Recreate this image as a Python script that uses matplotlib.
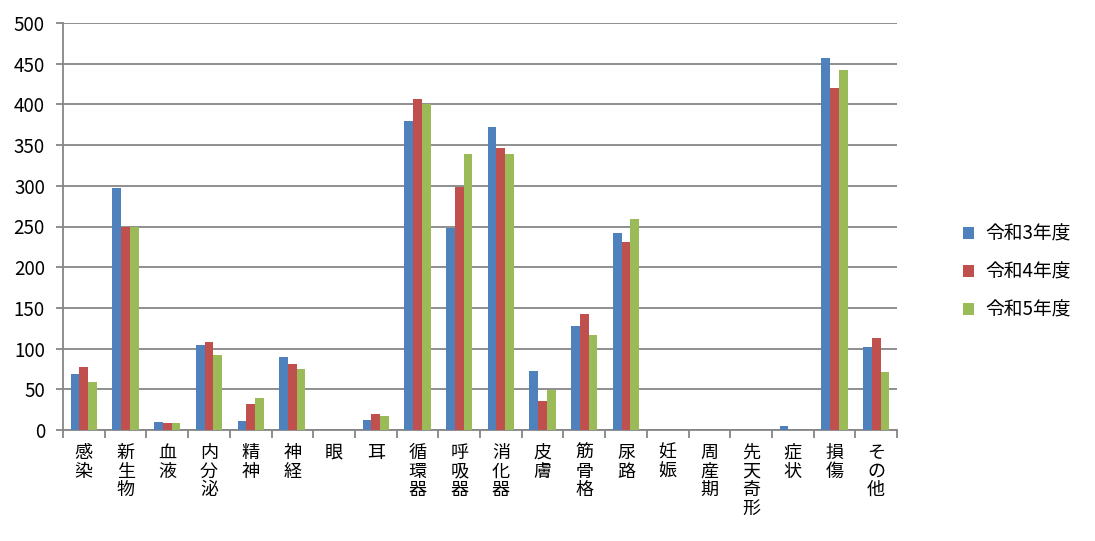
import numpy as np
import matplotlib

matplotlib.use("Agg")
import matplotlib.pyplot as plt

plt.rcParams["font.family"] = ["Noto Sans CJK JP", "DejaVu Sans"]

categories = ["感染", "新生物", "血液", "内分泌", "精神", "神経", "眼", "耳", "循環器",
              "呼吸器", "消化器", "皮膚", "筋骨格", "尿路", "妊娠", "周産期", "先天奇形",
              "症状", "損傷", "その他"]
series_names = ["令和3年度", "令和4年度", "令和5年度"]
r3 = [69, 297, 10, 104, 11, 90, 0, 12, 380, 248, 372, 72, 128, 242, 0, 0, 0, 5, 457, 102]
r4 = [78, 250, 9, 108, 32, 81, 0, 20, 407, 299, 346, 36, 142, 231, 0, 0, 0, 0, 420, 113]
r5 = [59, 249, 9, 92, 39, 75, 0, 17, 401, 339, 339, 49, 117, 259, 0, 0, 0, 0, 442, 71]
colors = ["#4F81BD", "#C0504D", "#9BBB59"]

fig = plt.figure(figsize=(10.95, 5.41), dpi=100)
ax = fig.add_axes([63 / 1095, 1 - 430 / 541, (897 - 63) / 1095, (430 - 23) / 541])

x = np.arange(len(categories))
w = 0.21
for i, (vals, name, c) in enumerate(zip([r3, r4, r5], series_names, colors)):
    ax.bar(x + (i - 1) * w, vals, width=w, color=c, label=name, zorder=3)

grid_c = "#868686"
ax.set_xlim(-0.5, len(categories) - 0.5)
ax.set_ylim(0, 500)
ax.set_yticks(np.arange(0, 501, 50))
ax.yaxis.grid(True, color=grid_c, lw=1.3, zorder=0)
for s in ["top", "right"]:
    ax.spines[s].set_visible(False)
for s in ["left", "bottom"]:
    ax.spines[s].set_color(grid_c)
    ax.spines[s].set_linewidth(1.3)

ax.set_xticks(x)
ax.set_xticklabels(["\n".join(c) for c in categories], fontsize=13,
                   linespacing=1.05, va="top")
ax.tick_params(axis="x", which="major", length=0, pad=10)
ax.set_xticks(np.arange(-0.5, len(categories)), minor=True)
ax.tick_params(axis="x", which="minor", length=6, color=grid_c, width=1.3)
ax.tick_params(axis="y", length=5, color=grid_c, width=1.3, labelsize=13.5, pad=8)

ax.legend(loc="center left", bbox_to_anchor=(946 / 1095, 269 / 541),
          bbox_transform=fig.transFigure, frameon=False, fontsize=13.5,
          handlelength=0.6, handleheight=0.6, labelspacing=0.9, handletextpad=0.6)

fig.savefig("out.png", dpi=100)
